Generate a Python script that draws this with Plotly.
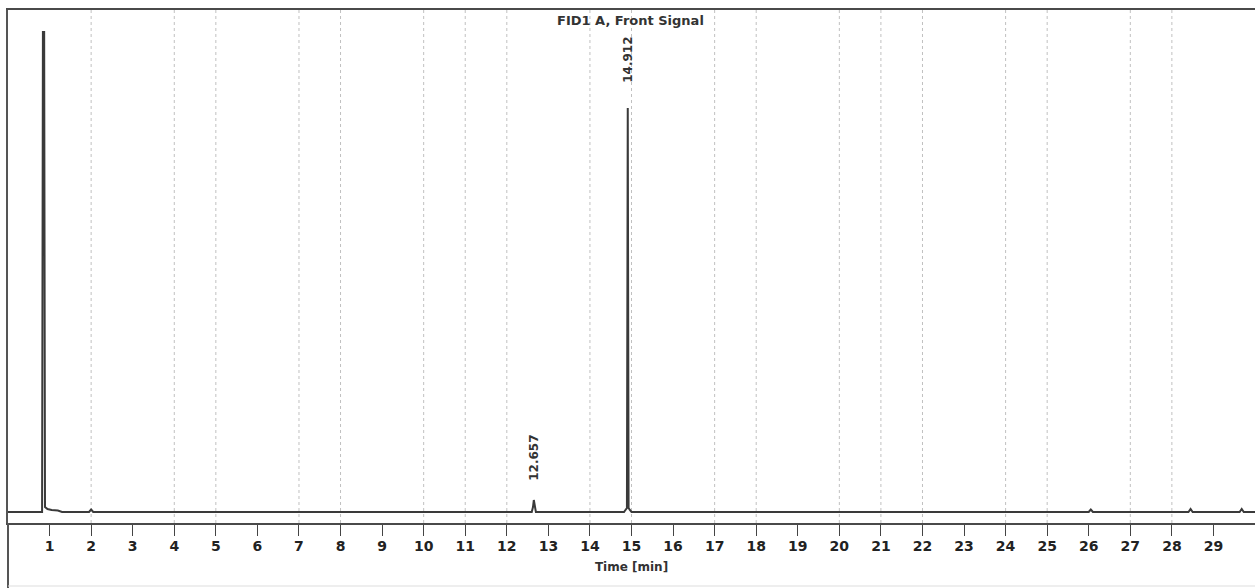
import plotly.graph_objects as go

# ---- data ----
time_min = [0.00, 0.82, 0.84, 0.87, 0.89, 0.95, 1.05, 1.20, 1.30,
            1.95, 2.00, 2.05,
            12.60, 12.63, 12.65, 12.67, 12.70,
            14.82, 14.86, 14.89, 14.91, 14.93, 14.96, 15.00,
            26.00, 26.05, 26.10,
            28.40, 28.45, 28.50,
            29.63, 29.68, 29.73, 30.00]
signal = [0, 0, 480, 480, 5, 3, 2, 1.5, 0,
          0, 2.5, 0,
          0, 5, 12, 5, 0,
          0, 3, 4, 404, 4, 2, 0,
          0, 2.5, 0,
          0, 3, 0,
          0, 3, 0, 0]

peak_times = [12.65, 14.91]
peak_labels = ["12.657", "14.912"]
peak_label_y = [54, 452]

tick_vals = list(range(1, 30))
tick_text = [str(v) for v in tick_vals]
grid_minutes = [2, 4, 5, 7, 8, 10, 11, 12, 14, 15, 17, 18, 20, 21, 22, 24, 25, 27, 28]

title_text = "<b>FID1 A, Front Signal</b>"
xaxis_title = "<b>Time [min]</b>"

FONT = "DejaVu Sans"

fig = go.Figure()

for g in grid_minutes:
    fig.add_shape(type="line", xref="x", yref="paper", x0=g, x1=g, y0=0, y1=1,
                  line=dict(color="#c0c0c0", width=1, dash="dot"), layer="below")

fig.add_trace(go.Scatter(x=time_min, y=signal, mode="lines",
                         line=dict(color="#3a3a3a", width=2), hoverinfo="skip",
                         showlegend=False))

for t, lab, yy in zip(peak_times, peak_labels, peak_label_y):
    fig.add_annotation(x=t, y=yy, text="<b>" + lab + "</b>", textangle=-90, showarrow=False,
                       font=dict(family=FONT, size=12, color="#333333"))

fig.add_annotation(xref="paper", yref="paper", x=0.4995, y=1, yanchor="top", yshift=-1,
                   text=title_text, showarrow=False,
                   font=dict(family=FONT, size=13, color="#333333"))

fig.add_shape(type="line", xref="paper", yref="paper", x0=0, x1=0, y0=0, y1=-65/513,
              line=dict(color="#555555", width=2))
fig.add_shape(type="line", xref="paper", yref="paper", x0=0, x1=1, y0=-63/513, y1=-63/513,
              line=dict(color="#dddddd", width=1))

fig.update_layout(
    width=1255, height=588,
    margin=dict(l=8, r=0, t=10, b=65),
    paper_bgcolor="white", plot_bgcolor="white",
    font=dict(family=FONT, color="#333333"),
    xaxis=dict(range=[0, 30], tickvals=tick_vals, ticktext=tick_text,
               ticks="outside", ticklen=11, tickwidth=1, tickcolor="#444444",
               ticklabelstandoff=-2,
               showgrid=False, zeroline=False,
               showline=True, linecolor="#4a4a4a", linewidth=2, mirror=True,
               tickfont=dict(family=FONT, size=14, color="#222222", weight="bold"),
               title=dict(text=xaxis_title, standoff=10,
                          font=dict(family=FONT, size=12, color="#333333"))),
    yaxis=dict(range=[-11, 502], showticklabels=False, ticks="", showgrid=False,
               zeroline=False, showline=True, linecolor="#555555", linewidth=2),
)

fig.write_html("out.html", config={"displayModeBar": False},
               post_script="document.body.style.margin='0';")
